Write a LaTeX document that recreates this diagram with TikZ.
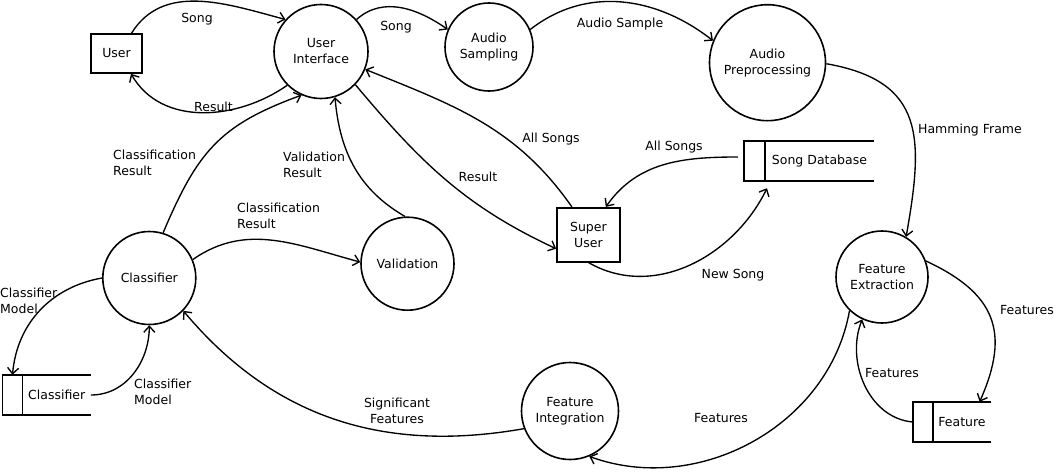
\documentclass[tikz,border=0pt]{standalone}
\usepackage{fontspec}
\setmainfont{DejaVu Sans}
\usetikzlibrary{arrows.meta}
\begin{document}
\begin{tikzpicture}[x=1pt,y=1pt,
  every node/.style={font=\fontsize{12.5}{16}\selectfont},
  proc/.style={draw, circle, line width=1.6pt, inner sep=0pt, minimum size=#1, align=center},
  ent/.style={draw, rectangle, line width=1.6pt, inner sep=0pt, align=center},
  storebox/.style={rectangle, inner sep=0pt, minimum height=40pt, minimum width=#1},
  storeline/.style={line width=1.6pt},
  flow/.style={line width=1.35pt, -{Straight Barb[length=6pt,width=11pt]}},
  lbl/.style={inner sep=0pt, align=center},
]
\useasboundingbox[fill=white] (0,0) rectangle (1056,-471);

% processes and entities
\node[ent, minimum width=51pt, minimum height=39pt] (user) at (116.5,-53.5) {User};
\node[proc=94pt] (ui) at (321,-51.5) {User\\Interface};
\node[proc=88pt] (as) at (489,-47) {Audio\\Sampling};
\node[proc=116pt] (ap) at (767.5,-62.7) {Audio\\Preprocessing};
\node[proc=93pt] (cls) at (149.3,-278) {Classifier};
\node[proc=93pt] (val) at (407.5,-263.7) {Validation};
\node[ent, minimum width=63pt, minimum height=54pt] (su) at (588.4,-234.7) {Super\\User};
\node[proc=92pt] (fe) at (882,-277) {Feature\\Extraction};
\node[proc=97pt] (fi) at (570,-411) {Feature\\Integration};

% data stores
\node[storebox=68pt] (cst) at (56.7,-395) {Classifier};
\node[storebox=109pt] (db) at (819.5,-161) {Song Database};
\node[storebox=58pt] (fst) at (962,-422) {Feature};
\foreach \s/\w in {cst/20, db/21, fst/20} {
  \draw[storeline] (\s.north east) -- ([xshift=-\w pt]\s.north west) -- ([xshift=-\w pt]\s.south west) -- (\s.south east);
  \draw[storeline] (\s.north west) -- (\s.south west);
}

% flows
\draw[flow] ([xshift=15pt]user.north) to[out=58,in=165] (ui.138);
\draw[flow] (ui.225) to[out=215,in=-60] ([xshift=14.5pt]user.south);
\draw[flow] (ui.42) to[out=42,in=145] (as.157);
\draw[flow] (as.23) to[out=38,in=142] (ap.158);
\draw[flow] (ap.-1) to[out=-10,in=80,looseness=1.35] (fe.59);
\draw[flow] (cls.73) to[out=67,in=200,looseness=1.15] (ui.246);
\draw[flow] (cls.23) to[out=35,in=165] (val.178);
\draw[flow] (val.93) to[out=150,in=-85] (ui.287);
\draw[flow] (ui.316) to[out=-50,in=155] ([yshift=-14pt]su.west);
\draw[flow] ([xshift=-16.5pt]su.north) to[out=125,in=-22] (ui.338);
\draw[flow] ([xshift=-27pt,yshift=4pt]db.west) to[out=180,in=55] ([xshift=17.4pt]su.north);
\draw[flow] (su.south) to[out=-30,in=-116] ([xshift=-52.5pt,yshift=-7pt]db.south);
\draw[flow] (fe.20) to[out=-25,in=66,looseness=1.3] ([xshift=17.6pt]fst.north);
\draw[flow] ([xshift=-20pt]fst.west) to[out=175,in=248] (fe.245);
\draw[flow] (fe.226) to[out=-100,in=-20] (fi.293);
\draw[flow] (fi.201) to[out=190,in=-50] (cls.316);
\draw[flow] (cls.180) to[out=190,in=85] ([xshift=-10pt]cst.north west);
\draw[flow] (cst.east) to[out=0,in=-90] (cls.south);

% labels
\node[lbl] (l1) at (197,-19) {Song};
\node[lbl] (l2) at (213.5,-107) {Result};
\node[lbl] (l3) at (396,-27) {Song};
\node[lbl] (l4) at (620,-24) {Audio Sample};
\node[lbl] (l5) at (970,-130) {Hamming Frame};
\node[lbl, align=left, anchor=west] (l6) at (113,-162.5) {Classification\\Result};
\node[lbl, align=left, anchor=west] (l7) at (283,-165) {Validation\\Result};
\node[lbl, align=left, anchor=west] (l8) at (237,-216) {Classification\\Result};
\node[lbl] (l9) at (478,-177) {Result};
\node[lbl] (l10) at (551,-139) {All Songs};
\node[lbl] (l11) at (674,-147) {All Songs};
\node[lbl] (l12) at (733,-275) {New Song};
\node[lbl] (l13) at (1027,-310) {Features};
\node[lbl] (l14) at (892,-373) {Features};
\node[lbl] (l15) at (721,-418) {Features};
\node[lbl] (l16) at (397,-411) {Significant\\Features};
\node[lbl, align=left, anchor=west] (l17) at (0,-301) {Classifier\\Model};
\node[lbl, align=left, anchor=west] (l18) at (134,-392) {Classifier\\Model};
\end{tikzpicture}
\end{document}
